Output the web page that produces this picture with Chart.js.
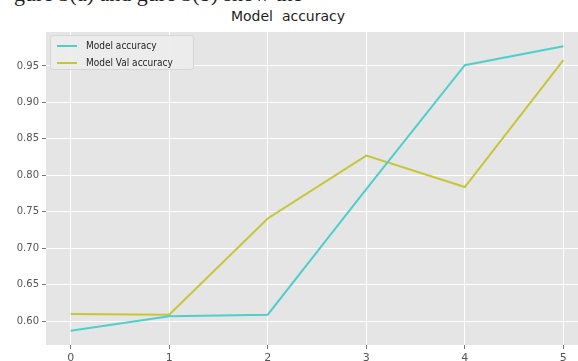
<!DOCTYPE html>
<html>
<head>
<meta charset="utf-8">
<script src="https://cdn.jsdelivr.net/npm/chart.js@4.4.1/dist/chart.umd.min.js"></script>
<style>
  html, body { margin: 0; padding: 0; width: 578px; height: 361px; overflow: hidden; background: #fff; }
  #wrap { position: absolute; left: 0; top: 0; width: 600px; height: 361px; }
  #caption { position: absolute; left: 14px; top: -19px; font: 22px "Liberation Serif", serif; color: #222; white-space: nowrap; }
  #title { position: absolute; left: 288px; top: 8px; transform: translateX(-50%); font: 14px "DejaVu Sans", sans-serif; color: #1e1e1e; white-space: pre; }
</style>
</head>
<body>
<div id="caption">gure 3(a) and gure 3(b) show the</div>
<div id="title">Model  accuracy</div>
<div id="wrap"><canvas id="c" width="600" height="361"></canvas></div>
<script>
// Epochs and per-epoch accuracy
const epochs = [0, 1, 2, 3, 4, 5];
const trainAccuracy = [0.587, 0.607, 0.609, 0.781, 0.951, 0.977];
const valAccuracy = [0.610, 0.609, 0.741, 0.827, 0.784, 0.958];
const yTickValues = [0.60, 0.65, 0.70, 0.75, 0.80, 0.85, 0.90, 0.95];
const seriesNames = ['Model accuracy', 'Model Val accuracy'];

const CYAN = '#4fcfcc';
const OLIVE = '#c6c63a';

const toPoints = (ys) => epochs.map((x, i) => ({ x, y: ys[i] }));

// Light grey panel behind the plot
const panelBg = {
  id: 'panelBg',
  beforeDraw(chart) {
    const { ctx, chartArea: a } = chart;
    ctx.save();
    ctx.fillStyle = '#e5e5e5';
    ctx.fillRect(a.left, a.top, a.right - a.left, a.bottom - a.top);
    ctx.restore();
  }
};

// Legend box drawn inside the upper-left corner of the plot
const innerLegend = {
  id: 'innerLegend',
  afterDatasetsDraw(chart) {
    const { ctx, chartArea: a } = chart;
    const x0 = a.left + 4, y0 = a.top + 3, w = 143, h = 34;
    ctx.save();
    ctx.fillStyle = 'rgba(236,236,236,0.9)';
    ctx.strokeStyle = '#d6d6d6';
    ctx.lineWidth = 1;
    ctx.beginPath();
    ctx.roundRect(x0 + 0.5, y0 + 0.5, w, h, 3);
    ctx.fill();
    ctx.stroke();
    ctx.font = '10px "DejaVu Sans Condensed", "DejaVu Sans", sans-serif';
    ctx.textBaseline = 'middle';
    chart.data.datasets.forEach((ds, i) => {
      const ly = y0 + 11 + i * 17;
      ctx.strokeStyle = ds.borderColor;
      ctx.lineWidth = 2;
      ctx.beginPath();
      ctx.moveTo(x0 + 7, ly);
      ctx.lineTo(x0 + 27, ly);
      ctx.stroke();
      ctx.fillStyle = '#262626';
      ctx.fillText(ds.label, x0 + 36, ly);
    });
    ctx.restore();
  }
};

new Chart(document.getElementById('c'), {
  type: 'line',
  data: {
    datasets: [
      { label: seriesNames[0], data: toPoints(trainAccuracy), borderColor: CYAN, borderWidth: 2, pointRadius: 0, tension: 0, fill: false },
      { label: seriesNames[1], data: toPoints(valAccuracy), borderColor: OLIVE, borderWidth: 2, pointRadius: 0, tension: 0, fill: false }
    ]
  },
  options: {
    responsive: false,
    animation: false,
    layout: { padding: { left: 0, right: 12, top: 32, bottom: 0 } },
    plugins: { legend: { display: false }, title: { display: false }, tooltip: { enabled: false } },
    scales: {
      x: {
        type: 'linear',
        min: -0.25,
        max: 5.25,
        afterBuildTicks(scale) { scale.ticks = epochs.map(v => ({ value: v })); },
        afterFit(scale) { scale.height = 16; },
        grid: { color: '#ffffff', lineWidth: 1, drawTicks: true, tickLength: 4, tickColor: '#777' },
        border: { display: false },
        ticks: { color: '#555', font: { size: 11, family: '"DejaVu Sans", sans-serif' }, padding: 3, maxRotation: 0 }
      },
      y: {
        type: 'linear',
        min: 0.5675,
        max: 0.9965,
        afterBuildTicks(scale) { scale.ticks = yTickValues.map(v => ({ value: v })); },
        afterFit(scale) { scale.width = 46; },
        grid: { color: '#ffffff', lineWidth: 1, drawTicks: true, tickLength: 4, tickColor: '#777' },
        border: { display: false },
        ticks: { color: '#555', font: { size: 10, family: '"DejaVu Sans", sans-serif' }, padding: 3, callback: v => v.toFixed(2) }
      }
    }
  },
  plugins: [panelBg, innerLegend]
});
</script>
</body>
</html>
